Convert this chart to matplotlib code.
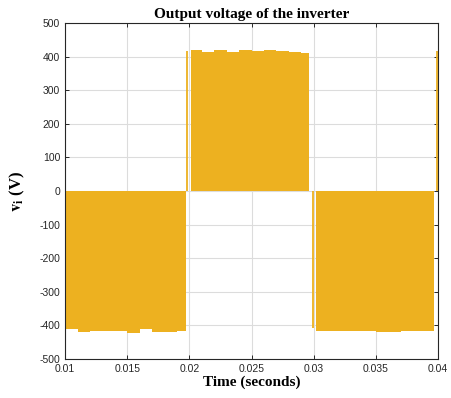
import matplotlib.pyplot as plt
import numpy as np

# inverter output: three half cycles, envelope level held for each millisecond
neg1_edges = [0.0100, 0.0110, 0.0120, 0.0130, 0.0140, 0.0150, 0.0160, 0.0170, 0.0180, 0.0190, 0.0197]
neg1_level = [-412, -419, -417, -417, -416, -424, -411, -419, -419, -416]

pos_edges = [0.02014, 0.0210, 0.0220, 0.0230, 0.0240, 0.0250, 0.0260, 0.0270, 0.0280, 0.0290, 0.02963]
pos_level = [420, 414, 420, 414, 421, 416, 421, 418, 414, 412]

neg2_edges = [0.03015, 0.0310, 0.0320, 0.0330, 0.0340, 0.0350, 0.0360, 0.0370, 0.0380, 0.0390, 0.0397]
neg2_level = [-418, -416, -416, -417, -417, -419, -420, -418, -416, -416]

# isolated switching pulses at the transitions
pulse_t = [0.01979, 0.02991, 0.03990]
pulse_v = [418, -408, 418]

color = '#EDB120'
axcol = '#262626'

plt.rcParams['axes.unicode_minus'] = False
plt.rcParams['mathtext.fontset'] = 'stix'

fig = plt.figure(figsize=(4.52, 3.98), dpi=100)
ax = fig.add_axes([0.144, 0.098, 0.825, 0.844])

for edges, level in [(neg1_edges, neg1_level), (pos_edges, pos_level), (neg2_edges, neg2_level)]:
    x = np.array(edges)
    y = np.array(level + [level[-1]])
    ax.fill_between(x, 0, y, step='post', color=color, linewidth=0)

ax.vlines(pulse_t, 0, pulse_v, color=color, linewidth=1.3)

ax.set_xlim(0.01, 0.04)
ax.set_ylim(-500, 500)
ax.set_xticks([0.01, 0.015, 0.02, 0.025, 0.03, 0.035, 0.04])
ax.set_xticklabels(['0.01', '0.015', '0.02', '0.025', '0.03', '0.035', '0.04'])
ax.set_yticks(range(-500, 501, 100))

ax.grid(True, color='#dcdcdc', linewidth=0.8)
ax.set_axisbelow(True)
for s in ax.spines.values():
    s.set_color(axcol)
    s.set_linewidth(0.8)
ax.tick_params(direction='in', top=True, right=True, length=3, width=0.7,
               colors=axcol, labelsize=7.5)
for lab in ax.get_xticklabels() + ax.get_yticklabels():
    lab.set_fontfamily('Liberation Sans')

ax.set_title('Output voltage of the inverter', fontfamily='Liberation Serif',
             fontweight='bold', fontsize=11, pad=4)
ax.set_xlabel('Time (seconds)', fontfamily='Liberation Serif', fontweight='bold',
              fontsize=11, labelpad=1)
ax.set_ylabel(r'$\mathbf{v}_\mathbf{i}$ (V)', fontfamily='Liberation Serif',
              fontweight='bold', fontsize=12, labelpad=9)

fig.savefig('out.png', dpi=100)
